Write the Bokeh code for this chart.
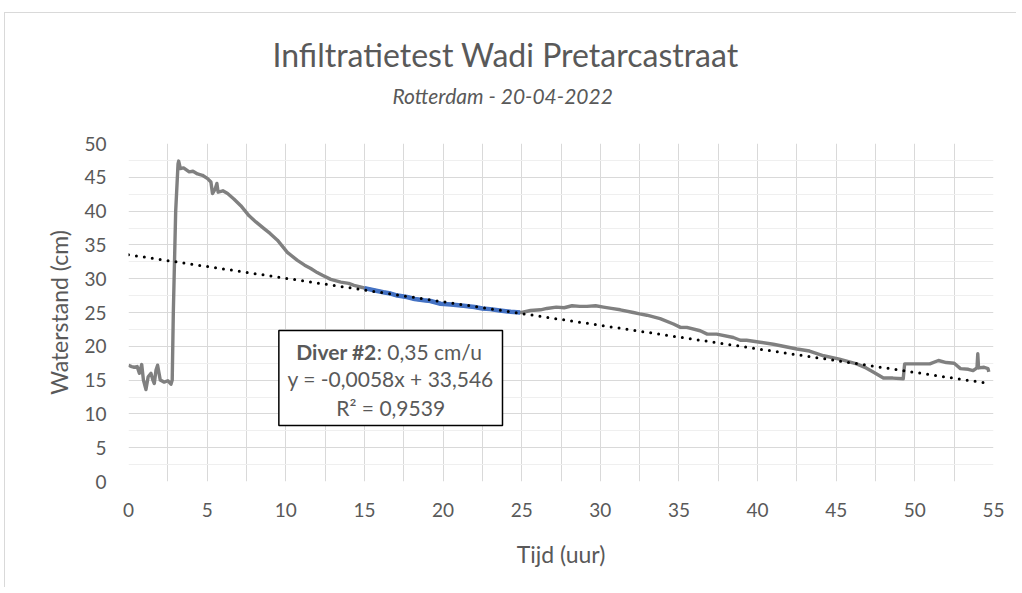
from bokeh.plotting import figure
from bokeh.models import Range1d, FixedTicker, Label, BoxAnnotation, Title
from bokeh.embed import file_html
from bokeh.resources import INLINE

# ---------------- data ----------------
title_text = "Infiltratietest Wadi Pretarcastraat"
subtitle_text = "Rotterdam - 20-04-2022"
x_label = "Tijd (uur)"
y_label = "Waterstand (cm)"

x_ticks = [0, 5, 10, 15, 20, 25, 30, 35, 40, 45, 50, 55]
x_grid = [0, 2.5, 5, 7.5, 10, 12.5, 15, 17.5, 20, 22.5, 25, 27.5, 30, 32.5,
          35, 37.5, 40, 42.5, 45, 47.5, 50, 52.5, 55]
y_ticks = [0, 5, 10, 15, 20, 25, 30, 35, 40, 45, 50]
y_minor = [2.5, 7.5, 12.5, 17.5, 22.5, 27.5, 32.5, 37.5, 42.5, 47.5]

# Diver #2 water level, whole record (hours, cm)
time_h = [0.0, 0.2, 0.37, 0.55, 0.69, 0.84, 0.95, 1.11, 1.25, 1.43, 1.55, 1.64,
          1.75, 1.85, 2.02, 2.27, 2.5, 2.7, 2.78, 2.85, 3.0, 3.15, 3.19, 3.3,
          3.5, 3.86, 4.1, 4.39, 4.7, 5.03, 5.24, 5.34, 5.5, 5.62, 5.7, 6.0,
          6.3, 6.7, 7.14, 7.67, 8.1, 8.62, 9.0, 9.47, 10.1, 10.74, 11.2, 11.59,
          12.0, 12.33, 12.86, 13.5, 14.0, 14.34, 14.87, 15.0,
          15.6, 16.2, 16.67, 17.1, 17.7, 18.2, 18.78, 19.2, 19.84, 20.5, 21.3,
          22.0, 22.5, 23.0, 23.6, 24.3, 24.9,
          25.0, 25.56, 26.2, 26.6, 27.2, 27.7, 28.2, 28.7, 29.15, 29.7, 30.2,
          30.7, 31.27, 32.1, 32.5, 32.96, 33.8, 34.65, 35.1, 35.5, 36.35, 36.8,
          37.4, 38.46, 38.9, 39.3, 40.16, 41.0, 42.5, 43.3, 44.2, 45.2, 46.3,
          46.9, 47.35, 48.0, 48.6, 49.26, 49.35, 50.1, 50.95, 51.5, 52.0, 52.5,
          52.9, 53.4, 53.7, 53.95, 54.0, 54.05, 54.4, 54.65, 54.7]
level_cm = [17.2, 17.0, 16.9, 17.0, 16.0, 17.3, 15.0, 13.6, 15.5, 16.0, 15.0, 14.5,
            16.5, 17.2, 15.0, 14.7, 14.9, 14.4, 15.0, 25.0, 40.0, 47.0, 47.4, 46.3,
            46.4, 45.8, 45.9, 45.5, 45.3, 44.8, 44.3, 42.6, 43.2, 44.1, 42.8, 43.0,
            42.6, 41.8, 40.8, 39.3, 38.4, 37.4, 36.7, 35.7, 33.9, 32.7, 32.0, 31.5,
            30.9, 30.5, 29.9, 29.5, 29.3, 29.0, 28.7, 28.6,
            28.3, 28.0, 27.8, 27.5, 27.3, 27.0, 26.8, 26.7, 26.3, 26.2, 26.0,
            25.8, 25.6, 25.5, 25.3, 25.1, 25.0,
            25.0, 25.3, 25.4, 25.6, 25.8, 25.7, 26.0, 25.9, 25.9, 26.0, 25.8,
            25.6, 25.4, 25.0, 24.8, 24.6, 24.1, 23.3, 22.8, 22.8, 22.3, 21.8,
            21.8, 21.3, 20.9, 20.9, 20.6, 20.3, 19.6, 19.3, 18.6, 18.1, 17.4,
            16.8, 16.2, 15.3, 15.3, 15.2, 17.4, 17.4, 17.4, 17.9, 17.6, 17.5,
            16.7, 16.6, 16.4, 16.8, 18.9, 16.8, 16.9, 16.7, 16.2]

# Range used for the fit (15 - 25 h)
fit_time_h = [15.0, 15.6, 16.2, 16.67, 17.1, 17.7, 18.2, 18.78, 19.2, 19.84,
              20.5, 21.3, 22.0, 22.5, 23.0, 23.6, 24.3, 24.9]
fit_level_cm = [28.6, 28.3, 28.0, 27.8, 27.5, 27.3, 27.0, 26.8, 26.7, 26.3,
                26.2, 26.0, 25.8, 25.6, 25.5, 25.3, 25.1, 25.0]

# Trend line as given by its equation (x in minutes)
trend_slope_per_min = -0.0058
trend_intercept = 33.546
trend_time_h = [0.0, 54.7]
trend_level_cm = [trend_intercept + trend_slope_per_min * 60 * t for t in trend_time_h]

box_line1_bold = "Diver #2"
box_line1_rest = ": 0,35 cm/u"
box_line2 = "y = -0,0058x + 33,546"
box_line3 = "R\u00b2 = 0,9539"

# ---------------- figure ----------------
TXT = "#595959"
FONT = "Lato"

p = figure(width=1012, height=575, output_backend="svg", toolbar_location=None,
           x_range=Range1d(0, 55), y_range=Range1d(0, 50),
           min_border_left=123, min_border_right=24,
           min_border_top=130, min_border_bottom=107)
p.styles = {"margin-left": "4px", "margin-top": "12px",
            "border-left": "1px solid #d9d9d9", "border-top": "1px solid #d9d9d9"}
p.outline_line_color = None
p.background_fill_color = "white"
p.border_fill_color = "white"

# titles: a blank spacer nearest the plot, then subtitle, then title on top
p.add_layout(Title(text=" ", align="left", standoff=1,
                   text_font=FONT, text_font_size="21px", text_font_style="italic",
                   text_color=TXT), "above")
p.add_layout(Title(text=subtitle_text, align="left", offset=264, standoff=15,
                   text_font=FONT, text_font_size="21px", text_font_style="italic",
                   text_color=TXT), "above")
p.add_layout(Title(text=title_text, align="left", offset=144, standoff=0,
                   text_font=FONT, text_font_size="32px", text_font_style="normal",
                   text_color=TXT), "above")

# axes
p.xaxis.ticker = FixedTicker(ticks=x_ticks)
p.yaxis.ticker = FixedTicker(ticks=y_ticks, minor_ticks=y_minor)
for ax in (p.xaxis[0], p.yaxis[0]):
    ax.axis_line_color = None
    ax.major_tick_line_color = None
    ax.minor_tick_line_color = None
    ax.major_label_text_font = FONT
    ax.major_label_text_font_size = "19px"
    ax.major_label_text_color = TXT
    ax.axis_label_text_font = FONT
    ax.axis_label_text_font_size = "23px"
    ax.axis_label_text_font_style = "normal"
    ax.axis_label_text_color = TXT
p.xaxis.axis_label = x_label
p.yaxis.axis_label = y_label
p.xaxis.major_label_standoff = 15
p.yaxis.major_label_standoff = 16
p.xaxis.axis_label_standoff = 20
p.yaxis.axis_label_standoff = 8

# grids
p.xgrid.ticker = FixedTicker(ticks=x_grid)
p.xgrid.grid_line_color = "#d9d9d9"
p.xgrid.grid_line_width = 1
p.ygrid.ticker = FixedTicker(ticks=y_ticks, minor_ticks=y_minor)
p.ygrid.grid_line_color = "#d9d9d9"
p.ygrid.grid_line_width = 1
p.ygrid.minor_grid_line_color = "#efefef"
p.ygrid.minor_grid_line_width = 1

# data
p.line(time_h, level_cm, line_color="#808080", line_width=3.4, line_join="round")
p.line(fit_time_h, fit_level_cm, line_color="#4472c4", line_width=4.5, line_join="round")
p.line(trend_time_h, trend_level_cm, line_color="black", line_width=3,
       line_dash="0 8", line_cap="round")

# text box
p.add_layout(BoxAnnotation(left=9.56, right=23.78, bottom=8.28, top=22.34,
                           fill_color="white", fill_alpha=1.0,
                           line_color="black", line_width=1.5, line_alpha=1.0))
p.add_layout(Label(x=15.78, y=19.23, text=box_line1_bold, text_align="right",
                   text_baseline="middle", text_font=FONT, text_font_size="21px",
                   text_font_style="bold", text_color=TXT))
p.add_layout(Label(x=15.78, y=19.23, text=box_line1_rest, text_align="left",
                   text_baseline="middle", text_font=FONT, text_font_size="21px",
                   text_color=TXT))
p.add_layout(Label(x=16.67, y=15.24, text=box_line2, text_align="center",
                   text_baseline="middle", text_font=FONT, text_font_size="21px",
                   text_color=TXT))
p.add_layout(Label(x=16.67, y=10.95, text=box_line3, text_align="center",
                   text_baseline="middle", text_font=FONT, text_font_size="21px",
                   text_color=TXT))

open("out.html", "w").write(file_html(p, INLINE))
